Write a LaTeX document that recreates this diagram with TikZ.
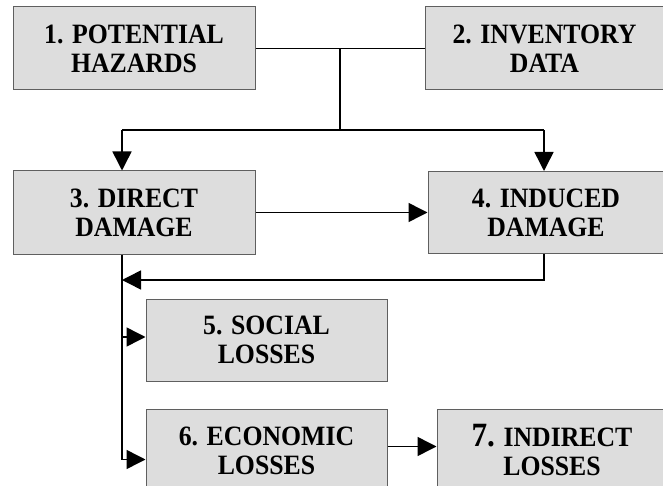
\documentclass[tikz,border=0pt]{standalone}
\usepackage{fontspec}
\setmainfont{Liberation Serif}[FakeStretch=0.92]
\usetikzlibrary{arrows.meta}
\usetikzlibrary{calc}
\usetikzlibrary{positioning}

\definecolor{cajagris}{RGB}{221,221,221}
\definecolor{bordegris}{RGB}{95,95,95}

\tikzset{
  caja/.style={draw=bordegris, fill=cajagris, line width=1pt, align=center, inner sep=0pt,
    font=\fontsize{28}{29}\selectfont\bfseries},
  linea/.style={line width=1.5pt},
  flecha/.style={line width=1.5pt, -{Triangle[length=19pt, width=19pt]}}
}

\begin{document}
\begin{tikzpicture}[x=1pt, y=-1pt]
\useasboundingbox (0,0) rectangle (663,486);
\clip (0,0) rectangle (663,486);

% Cajas
\node [caja, minimum width=242pt, minimum height=83pt] at (134,48.5) (n1) {1. POTENTIAL\\HAZARDS};
\node [caja, right=169pt of n1, minimum width=239pt, minimum height=83pt] (n2) {2. INVENTORY\\DATA};

\node [caja, below=80pt of n1, minimum width=242pt, minimum height=83pt] (n3) {3. DIRECT\\DAMAGE};
\node [caja, right=172pt of n3, minimum width=236pt, minimum height=82pt] (n4) {4. INDUCED\\DAMAGE};

\node [caja, below=44pt of n3, xshift=132.5pt, minimum width=241pt, minimum height=82pt] (n5) {5. SOCIAL\\LOSSES};
\node [caja, below=27pt of n5, minimum width=241pt, minimum height=83pt] (n6) {6. ECONOMIC\\LOSSES};
\node [caja, right=49pt of n6, minimum width=230pt, minimum height=83pt] (n7) {{\fontsize{34}{29}\selectfont 7.} INDIRECT\\LOSSES};

% Puntos de union
\coordinate (jl) at (122,130);
\coordinate (jr) at (544,130);
\coordinate (jb) at (122,280);
\coordinate (jm) at ($(n1.east)!0.5!(n2.west)$);
\coordinate (e5) at ([yshift=3pt]n5.west);

% Conexiones
\draw[linea] (n1.east) -- (n2.west);
\draw[linea] (jm) -- (jm |- jl);
\draw[linea] (jl) -- (jr);
\draw[flecha] (jl) -- (jl |- n3.north);
\draw[flecha] (jr) -- (jr |- n4.north);

\draw[flecha] (n3.east) -- (n4.west);
\draw[flecha] (jr |- n4.south) |- (jb);

\draw[flecha] (jl |- n3.south) |- ([yshift=-9pt]n6.west);
\draw[flecha] (jl |- e5) -- (e5);
\draw[flecha] ([yshift=4pt]n6.east) -- ([yshift=4pt]n7.west);

\end{tikzpicture}
\end{document}
